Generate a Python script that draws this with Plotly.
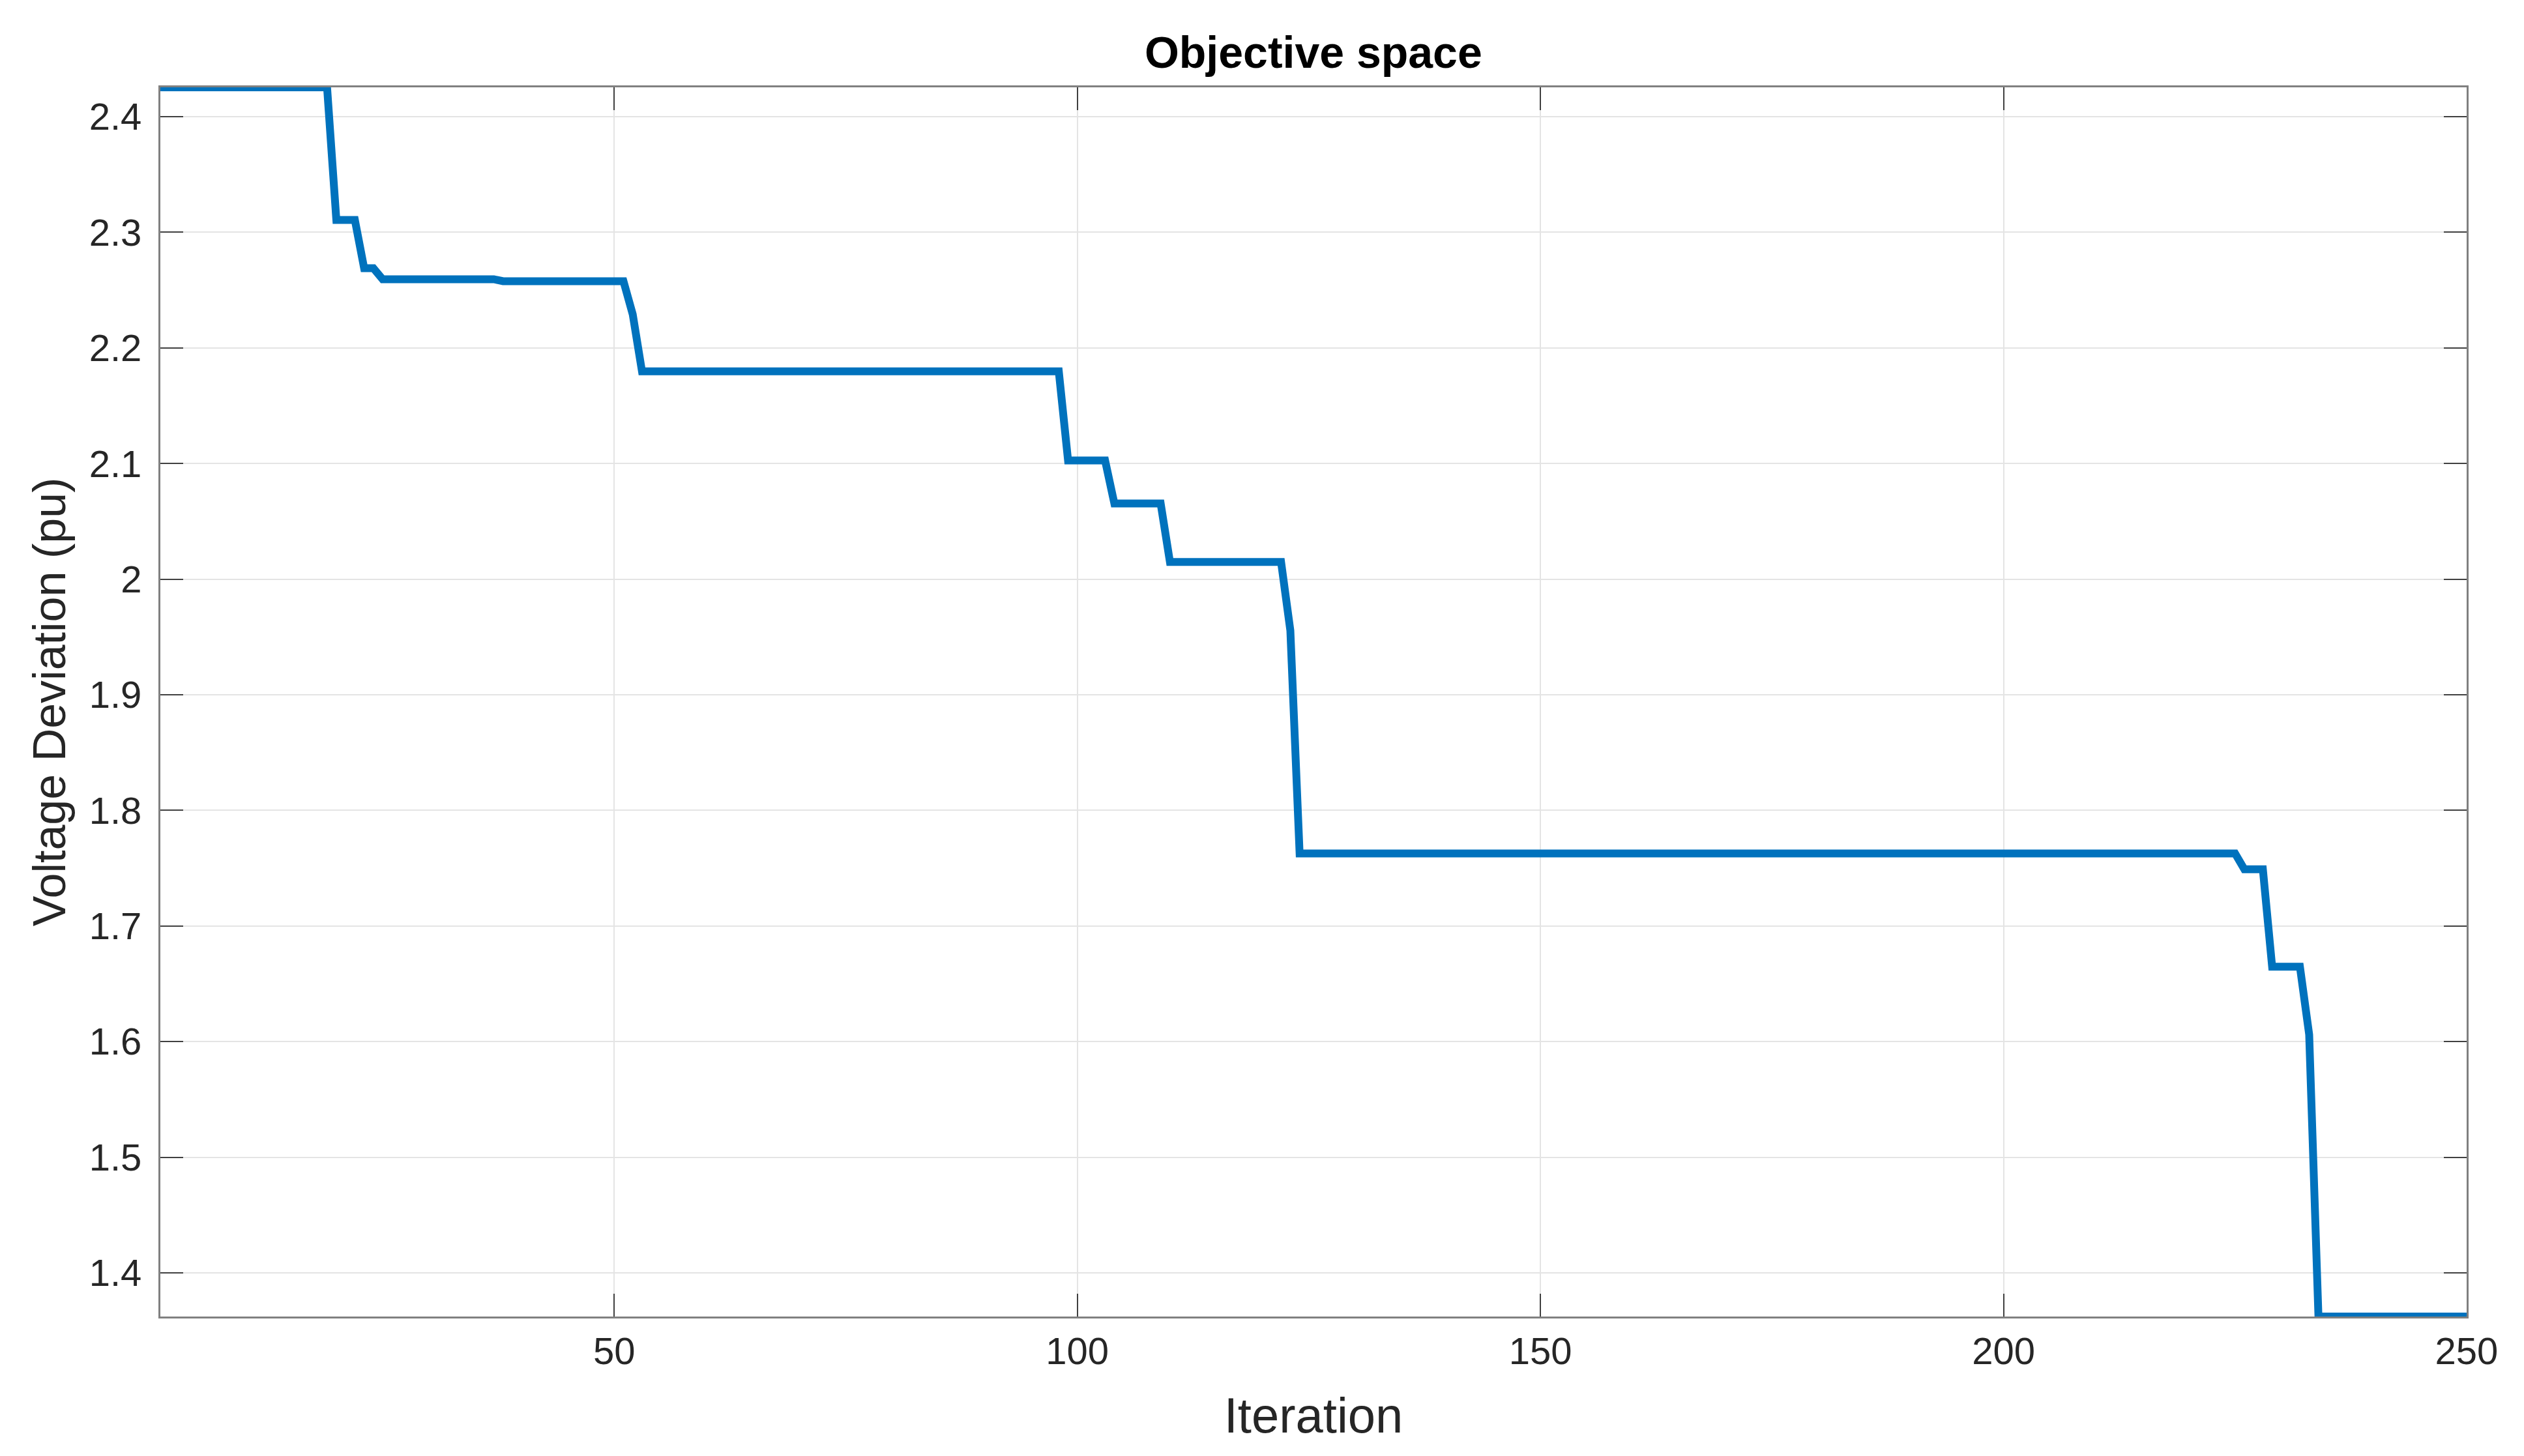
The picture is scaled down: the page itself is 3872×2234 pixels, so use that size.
import plotly.graph_objects as go

# Convergence curve: iteration / best objective value at each change point
iterations = [1, 19, 20, 22, 23, 24, 25, 37, 38, 51, 52, 53, 98, 99, 103, 104,
              109, 110, 122, 123, 124, 225, 226, 228, 229, 232, 233, 234, 250]
deviation = [2.4254, 2.4254, 2.3107, 2.3107, 2.269, 2.269, 2.2594, 2.2594,
             2.2577, 2.2577, 2.229, 2.1797, 2.1797, 2.1027, 2.1027, 2.0654,
             2.0654, 2.0149, 2.0149, 1.9556, 1.7627, 1.7627, 1.749, 1.749,
             1.6648, 1.6648, 1.606, 1.3622, 1.3622]

font = "Liberation Sans, Arial, Helvetica, sans-serif"

fig = go.Figure(
    go.Scatter(
        x=iterations,
        y=deviation,
        mode="lines",
        line=dict(color="#0072BD", width=12),
        showlegend=False,
    )
)

axis_common = dict(
    showline=True,
    linecolor="#808080",
    linewidth=3,
    mirror="allticks",
    ticks="inside",
    ticklen=35,
    tickwidth=2,
    tickcolor="#404040",
    showgrid=True,
    gridcolor="#e4e4e4",
    gridwidth=2,
    zeroline=False,
    tickfont=dict(family=font, size=58, color="#262626"),
)

fig.update_layout(
    width=3872,
    height=2234,
    margin=dict(l=238, r=96, t=126, b=222),
    paper_bgcolor="white",
    plot_bgcolor="white",
    title=dict(
        text="<b>Objective space</b>",
        font=dict(family=font, size=68, color="black"),
        x=0.5183,
        xanchor="center",
        y=1 - 72 / 2234,
        yanchor="middle",
        yref="container",
    ),
    xaxis=dict(
        axis_common,
        range=[1, 250],
        tick0=0,
        dtick=50,
        ticklabelstandoff=0,
        title=dict(text="Iteration", font=dict(family=font, size=76, color="#262626"), standoff=42),
    ),
    yaxis=dict(
        axis_common,
        range=[1.3622, 2.4254],
        tick0=0,
        dtick=0.1,
        ticklabelstandoff=14,
        title=dict(text="Voltage Deviation (pu)", font=dict(family=font, size=70, color="#262626"), standoff=14),
    ),
)

fig.write_html("out.html")
